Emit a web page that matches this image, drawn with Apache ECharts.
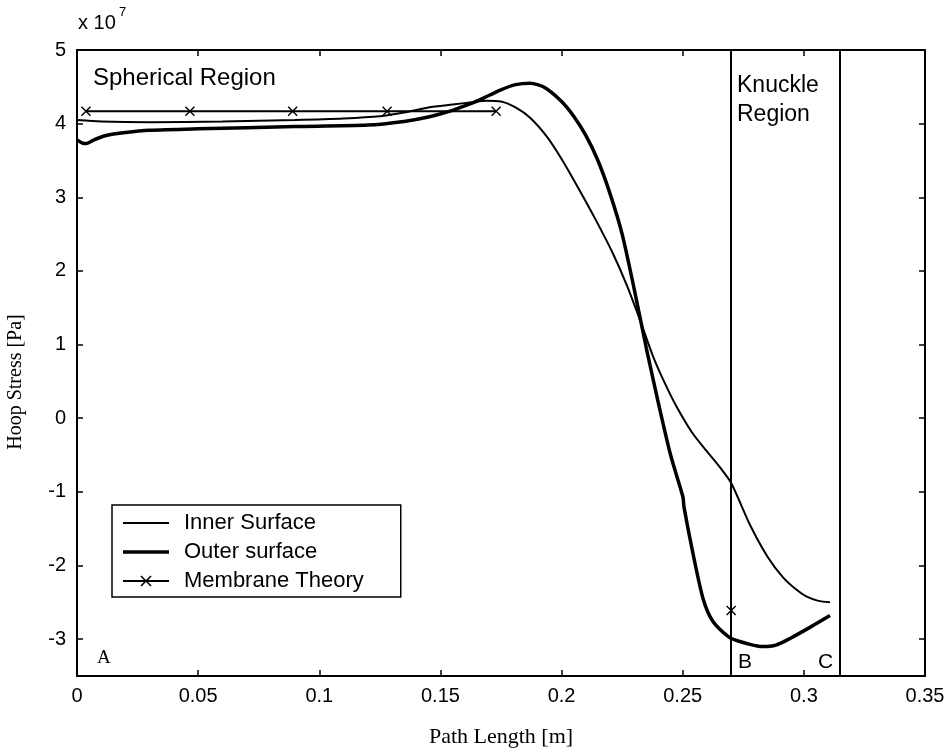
<!DOCTYPE html>
<html>
<head>
<meta charset="utf-8">
<script src="https://cdn.jsdelivr.net/npm/echarts@6/dist/echarts.min.js"></script>
<style>
	html, body { margin: 0; padding: 0; background: #fff; }
	#chart { width: 951px; height: 755px; }
</style>
</head>
<body>
<div id="chart"></div>
<script>
	// stress values in units of 1e7 Pa, path length in m
	const innerSurface = [
		[0, 4.05], [0.01, 4.03], [0.03, 4.02], [0.06, 4.03], [0.09, 4.05], [0.11, 4.07],
		[0.125, 4.1], [0.135, 4.15], [0.145, 4.22], [0.155, 4.26], [0.163, 4.29], [0.169, 4.31],
		[0.175, 4.3], [0.181, 4.22], [0.187, 4.08], [0.194, 3.82], [0.2, 3.52], [0.207, 3.12],
		[0.214, 2.7], [0.221, 2.25], [0.227, 1.8], [0.2324, 1.33], [0.238, 0.82], [0.243, 0.45],
		[0.2476, 0.15], [0.254, -0.2], [0.26, -0.45], [0.265, -0.65], [0.27, -0.88], [0.2778, -1.45],
		[0.285, -1.88], [0.2914, -2.16], [0.297, -2.33], [0.301, -2.42], [0.306, -2.48], [0.3108, -2.5]
	]
	const outerSurface = [
		[0, 3.78], [0.002, 3.74], [0.004, 3.73], [0.007, 3.78], [0.012, 3.84], [0.02, 3.88],
		[0.03, 3.91], [0.05, 3.93], [0.09, 3.96], [0.12, 3.98], [0.135, 4.03], [0.145, 4.09],
		[0.155, 4.18], [0.16, 4.24], [0.166, 4.32], [0.175, 4.46], [0.181, 4.53], [0.187, 4.55],
		[0.193, 4.49], [0.2, 4.3], [0.205, 4.1], [0.21, 3.84], [0.215, 3.5], [0.22, 3.05],
		[0.225, 2.5], [0.23, 1.75], [0.235, 0.95], [0.24, 0.2], [0.245, -0.5], [0.2501, -1.07],
		[0.2505, -1.2], [0.2542, -1.83], [0.2584, -2.45], [0.2625, -2.76], [0.2695, -2.98], [0.2778, -3.07],
		[0.283, -3.1], [0.2885, -3.08], [0.2943, -2.99], [0.3025, -2.84], [0.3108, -2.68]
	]
	const membraneTheory = [
		[0.0037, 4.17], [0.0466, 4.17], [0.089, 4.17], [0.128, 4.17], [0.173, 4.17],
		[0.22, '-'],
		[0.27, -2.61]
	]
	const regionBounds = [0.27, 0.315]
	const yTicks = [-3, -2, -1, 0, 1, 2, 3, 4, 5]

	const sansFont = "'Liberation Sans', Arial, sans-serif"
	const serifFont = "'Liberation Serif', 'DejaVu Serif', serif"
	const xMark = 'path://M0,1L1,0L5,4L9,0L10,1L6,5L10,9L9,10L5,6L1,10L0,9L4,5Z'

	let myChart = echarts.init(document.getElementById('chart'), null, { renderer: 'canvas' })

	const axisLine = { show: true, onZero: false, lineStyle: { color: '#000', width: 2 } }
	const axisTick = { show: true, inside: true, length: 6, lineStyle: { color: '#000', width: 1.5 } }

	const option = {
		animation: false,
		backgroundColor: '#fff',
		grid: { left: 77, right: 26, top: 50, bottom: 79 },
		legend: {
			orient: 'vertical',
			left: 112,
			top: 505,
			itemWidth: 46,
			itemHeight: 14,
			itemGap: 7,
			padding: [7, 37, 5, 10],
			borderColor: '#000',
			borderWidth: 1.5,
			borderRadius: 0,
			backgroundColor: '#fff',
			textStyle: { fontFamily: sansFont, fontSize: 22, lineHeight: 20, color: '#000', padding: [0, 0, 0, 10] },
			data: [
				{ name: 'Inner Surface', icon: 'path://M0,0H46V2H0Z' },
				{ name: 'Outer surface', icon: 'path://M0,0H46V3.5H0Z' },
				{ name: 'Membrane Theory' }
			]
		},
		xAxis: [{
			type: 'value',
			min: 0,
			max: 0.35,
			interval: 0.05,
			axisLine: axisLine,
			axisTick: axisTick,
			splitLine: { show: false },
			axisLabel: { color: '#000', fontFamily: sansFont, fontSize: 20, margin: 10 }
		}, {
			type: 'value',
			position: 'top',
			min: 0,
			max: 0.35,
			interval: 0.05,
			axisLine: axisLine,
			axisTick: axisTick,
			splitLine: { show: false },
			axisLabel: { show: false }
		}],
		yAxis: [{
			type: 'value',
			min: -3.5,
			max: 5,
			axisLine: axisLine,
			axisTick: Object.assign({ customValues: yTicks }, axisTick),
			splitLine: { show: false },
			axisLabel: { color: '#000', fontFamily: sansFont, fontSize: 20, margin: 11, customValues: yTicks }
		}, {
			type: 'value',
			position: 'right',
			min: -3.5,
			max: 5,
			axisLine: axisLine,
			axisTick: Object.assign({ customValues: yTicks }, axisTick),
			splitLine: { show: false },
			axisLabel: { show: false }
		}],
		series: [{
			name: 'Inner Surface',
			type: 'line',
			symbol: 'none',
			smooth: 0.25,
			lineStyle: { color: '#000', width: 2 },
			itemStyle: { color: '#000' },
			data: innerSurface,
			markLine: {
				silent: true,
				symbol: 'none',
				precision: 4,
				label: { show: false },
				lineStyle: { color: '#000', width: 2, type: 'solid' },
				data: regionBounds.map(v => ({ xAxis: v }))
			}
		}, {
			name: 'Outer surface',
			type: 'line',
			symbol: 'none',
			smooth: 0.25,
			lineStyle: { color: '#000', width: 3.5 },
			itemStyle: { color: '#000' },
			data: outerSurface
		}, {
			name: 'Membrane Theory',
			type: 'line',
			symbol: xMark,
			symbolSize: 10,
			showAllSymbol: true,
			connectNulls: false,
			lineStyle: { color: '#000', width: 2 },
			itemStyle: { color: '#000' },
			data: membraneTheory
		}],
		graphic: [
			{ type: 'text', left: 78, top: 13, style: { text: 'x 10', fontFamily: sansFont, fontSize: 20, fill: '#000' } },
			{ type: 'text', left: 119, top: 6, style: { text: '7', fontFamily: sansFont, fontSize: 13, fill: '#000' } },
			{ type: 'text', left: 93, top: 66, style: { text: 'Spherical Region', fontFamily: sansFont, fontSize: 24, fill: '#000' } },
			{ type: 'text', left: 737, top: 71, style: { text: 'Knuckle\nRegion', fontFamily: sansFont, fontSize: 23, lineHeight: 29, fill: '#000' } },
			{ type: 'text', left: 97, top: 649, style: { text: 'A', fontFamily: serifFont, fontSize: 19, fill: '#000' } },
			{ type: 'text', left: 738, top: 652, style: { text: 'B', fontFamily: sansFont, fontSize: 21, fill: '#000' } },
			{ type: 'text', left: 818, top: 652, style: { text: 'C', fontFamily: sansFont, fontSize: 21, fill: '#000' } },
			{ type: 'text', x: 501, y: 737, style: { text: 'Path Length [m]', fontFamily: serifFont, fontSize: 22, fill: '#000', align: 'center', verticalAlign: 'middle' } },
			{ type: 'text', x: 16, y: 382, rotation: Math.PI / 2, style: { text: 'Hoop Stress [Pa]', fontFamily: serifFont, fontSize: 20, fill: '#000', align: 'center', verticalAlign: 'middle' } }
		]
	}

	myChart.setOption(option)
</script>
</body>
</html>
